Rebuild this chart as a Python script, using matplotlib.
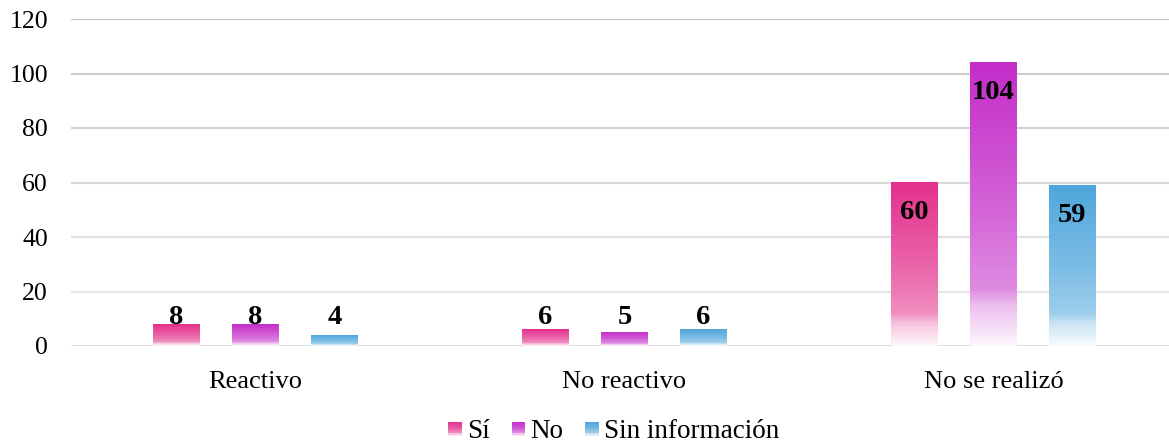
import numpy as np
import matplotlib
matplotlib.use("Agg")
import matplotlib.pyplot as plt
from matplotlib.colors import to_rgb
from matplotlib.legend_handler import HandlerBase
from matplotlib.patches import Rectangle

# Data
categories = ["Reactivo", "No reactivo", "No se realizó"]
series_names = ["Sí", "No", "Sin información"]
si_values = [8, 6, 60]
no_values = [8, 5, 104]
sin_info_values = [4, 6, 59]
y_ticks = [0, 20, 40, 60, 80, 100, 120]

series_values = [si_values, no_values, sin_info_values]
series_colors = ["#e3308c", "#c42dc9", "#4fa6dc"]

plt.rcParams["font.family"] = ["Liberation Serif", "DejaVu Serif"]

W, H = 1169, 445
fig = plt.figure(figsize=(W / 100, H / 100), dpi=100)
ax = fig.add_axes([71 / W, 99 / H, 1107 / W, 327 / H])


def white_blend(p):
    """Amount of white mixed in, p = 0 at bar top, 1 at bar bottom."""
    return np.interp(p, [0.0, 0.5, 0.8, 0.86, 1.0], [0.0, 0.25, 0.45, 0.7, 0.96])


def gradient_rgba(color, n=256):
    base = np.array(to_rgb(color))
    p = np.linspace(1.0, 0.0, n)  # row 0 is the bottom (origin='lower')
    t = white_blend(p)[:, None]
    rgb = base[None, :] * (1 - t) + t
    img = np.ones((n, 1, 4))
    img[:, 0, :3] = rgb
    return img


x = np.arange(len(categories))
bar_w = 0.127
step = 0.214
offsets = [-step, 0.0, step]

ylim = (0, 120)
ax_h_px = 327
ppu = ax_h_px / (ylim[1] - ylim[0])

for vals, off, col in zip(series_values, offsets, series_colors):
    bars = ax.bar(x + off, vals, width=bar_w, color="none", zorder=2)
    img = gradient_rgba(col)
    for b, v in zip(bars, vals):
        x0, w, h = b.get_x(), b.get_width(), b.get_height()
        ax.imshow(img, extent=[x0, x0 + w, 0, h], aspect="auto",
                  origin="lower", interpolation="bilinear", zorder=2)
        # value label: inside the top of tall bars, floating near the base of short ones
        center_px = max(v * ppu - 30, 28)
        ax.text(x0 + w / 2, center_px / ppu, str(v), ha="center", va="center",
                fontsize=20.5, fontweight="bold", color="black", zorder=4)

ax.set_xlim(-0.5, len(categories) - 0.5)
ax.set_ylim(*ylim)
ax.set_yticks(y_ticks)
ax.set_xticks(x)
ax.set_xticklabels(categories)
ax.tick_params(axis="y", length=0, labelsize=18.5, pad=16.5)
ax.tick_params(axis="x", length=0, labelsize=19, pad=18)

for s in ax.spines.values():
    s.set_visible(False)

# Gridlines that get lighter towards the bottom
ax.set_axisbelow(True)
ax.yaxis.grid(True, linewidth=1.5)
grid_shades = np.linspace(0.93, 0.77, len(y_ticks))
for gl, shade in zip(ax.yaxis.get_gridlines(), grid_shades):
    gl.set_color((shade, shade, shade))
ax.axhline(0, color="#d9d9d9", linewidth=1.8, zorder=1.5)


class GradientSquareHandler(HandlerBase):
    def __init__(self, color):
        super().__init__()
        self.color = color

    def create_artists(self, legend, orig_handle, xdescent, ydescent,
                       width, height, fontsize, trans):
        size = min(width, height)
        x0 = xdescent + width - size
        y0 = -ydescent + (height - size) / 2
        n = 12
        base = np.array(to_rgb(self.color))
        artists = []
        for i in range(n):
            p = 1 - (i + 0.5) / n
            t = white_blend(p)
            c = base * (1 - t) + t
            r = Rectangle((x0, y0 + i * size / n), size, size / n + 0.3,
                          facecolor=c, edgecolor="none", transform=trans)
            artists.append(r)
        return artists


handles = [Rectangle((0, 0), 1, 1) for _ in series_names]
handler_map = {h: GradientSquareHandler(c) for h, c in zip(handles, series_colors)}
fig.legend(handles, series_names, handler_map=handler_map, loc="center",
           bbox_to_anchor=(614 / W, 13 / H), ncol=3, frameon=False,
           fontsize=19.5, handlelength=0.5, handleheight=0.5,
           handletextpad=0.2, columnspacing=0.8)

fig.savefig("out.png", dpi=100)
